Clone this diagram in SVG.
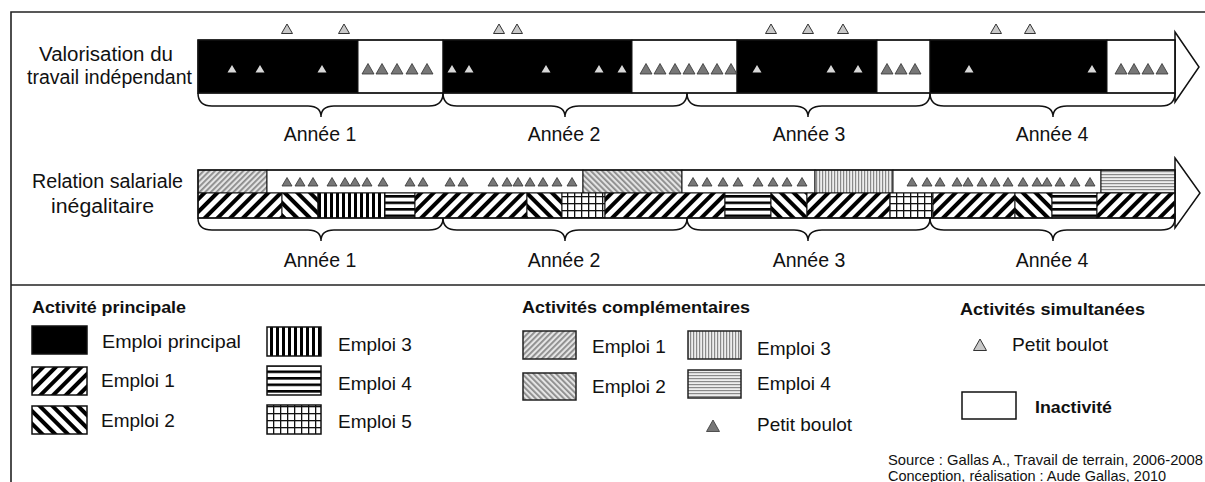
<svg xmlns="http://www.w3.org/2000/svg" width="1205" height="482" viewBox="0 0 1205 482">
<style>
text{font-family:"Liberation Sans",Arial,sans-serif;fill:#111}
.lb{font-size:19.5px}
.lg{font-size:19px}
.hd{font-size:17px;font-weight:bold}
.src{font-size:14.5px}
.frame{stroke:#222;stroke-width:1.6;fill:none}
.seg{stroke:#111;stroke-width:1}
.bar{fill:none;stroke:#111;stroke-width:1.5}
.arrow{fill:#fff;stroke:#111;stroke-width:1.5;stroke-linejoin:miter}
.brace{fill:none;stroke:#111;stroke-width:1.5}
.sw{stroke:#111;stroke-width:1.5}
.swg{stroke:#222;stroke-width:1.5}
</style>
<defs>
<pattern id="pE1" width="9" height="9" patternUnits="userSpaceOnUse" patternTransform="rotate(45)"><rect width="9" height="9" fill="#fff"/><rect width="4" height="9" fill="#000"/></pattern>
<pattern id="pE2" width="9" height="9" patternUnits="userSpaceOnUse" patternTransform="rotate(-45)"><rect width="9" height="9" fill="#fff"/><rect width="4" height="9" fill="#000"/></pattern>
<pattern id="pE3" width="6" height="6" patternUnits="userSpaceOnUse"><rect width="6" height="6" fill="#fff"/><rect width="3" height="6" fill="#000"/></pattern>
<pattern id="pE4" width="6" height="6.5" patternUnits="userSpaceOnUse"><rect width="6" height="6.5" fill="#fff"/><rect width="6" height="2.6" fill="#000"/></pattern>
<pattern id="pE5" width="7" height="7" patternUnits="userSpaceOnUse"><rect width="7" height="7" fill="#fff"/><rect width="1.3" height="7" fill="#111"/><rect width="7" height="1.3" fill="#111"/></pattern>
<pattern id="pC1" width="4" height="4" patternUnits="userSpaceOnUse" patternTransform="rotate(45)"><rect width="4" height="4" fill="#e4e4e4"/><rect width="1.8" height="4" fill="#8a8a8a"/></pattern>
<pattern id="pC2" width="4" height="4" patternUnits="userSpaceOnUse" patternTransform="rotate(-45)"><rect width="4" height="4" fill="#e4e4e4"/><rect width="1.8" height="4" fill="#8a8a8a"/></pattern>
<pattern id="pC3" width="3" height="3" patternUnits="userSpaceOnUse"><rect width="3" height="3" fill="#eee"/><rect width="1.2" height="3" fill="#8a8a8a"/></pattern>
<pattern id="pC4" width="3" height="3" patternUnits="userSpaceOnUse"><rect width="3" height="3" fill="#eee"/><rect width="3" height="1.2" fill="#8a8a8a"/></pattern>
<path id="tl" d="M0,-5 L5.5,4.5 L-5.5,4.5 Z" fill="#c8c8c8" stroke="#333" stroke-width="1"/>
<path id="ts" d="M0,-4 L4.5,3.5 L-4.5,3.5 Z" fill="#d8d8d8"/>
<path id="td" d="M0,-5.5 L6,5 L-6,5 Z" fill="#777" stroke="#333" stroke-width="0.8"/>
<path id="td2" d="M0,-4.5 L5,4 L-5,4 Z" fill="#777" stroke="#333" stroke-width="0.8"/>
<path id="tdl" d="M0,-6 L6.5,5.5 L-6.5,5.5 Z" fill="#777" stroke="#333" stroke-width="0.8"/>
<path id="tll" d="M0,-6 L6.5,5.5 L-6.5,5.5 Z" fill="#c8c8c8" stroke="#333" stroke-width="1"/>
</defs>

<g id="frame">
<path class="frame" d="M11,482 L11,12 L1205,12"/>
<path class="frame" d="M11,285 L1205,285"/>
</g>

<g id="band1">
<text class="lb" x="39" y="61" textLength="134" lengthAdjust="spacingAndGlyphs">Valorisation du</text>
<text class="lb" x="27" y="84" textLength="165" lengthAdjust="spacingAndGlyphs">travail indépendant</text>
<polygon class="arrow" points="1175,32 1199,67 1175,102"/>
<rect class="seg" x="198" y="40" width="160" height="53" fill="#000"/>
<rect class="seg" x="358" y="40" width="85" height="53" fill="#fff"/>
<rect class="seg" x="443" y="40" width="189" height="53" fill="#000"/>
<rect class="seg" x="632" y="40" width="105" height="53" fill="#fff"/>
<rect class="seg" x="737" y="40" width="140" height="53" fill="#000"/>
<rect class="seg" x="877" y="40" width="53" height="53" fill="#fff"/>
<rect class="seg" x="930" y="40" width="177" height="53" fill="#000"/>
<rect class="seg" x="1107" y="40" width="68" height="53" fill="#fff"/>
<rect class="bar" x="198" y="40" width="977" height="53"/>
<g id="b1-top">
<use href="#tl" x="287" y="29"/><use href="#tl" x="344" y="29"/>
<use href="#tl" x="499" y="29"/><use href="#tl" x="517" y="29"/>
<use href="#tl" x="771" y="29"/><use href="#tl" x="808" y="29"/><use href="#tl" x="843" y="29"/>
<use href="#tl" x="996" y="29"/><use href="#tl" x="1030" y="29"/>
</g>
<g id="b1-small">
<use href="#ts" x="232" y="69"/><use href="#ts" x="260" y="69"/><use href="#ts" x="322" y="69"/>
<use href="#ts" x="452" y="69"/><use href="#ts" x="469" y="69"/><use href="#ts" x="546" y="69"/><use href="#ts" x="599" y="69"/><use href="#ts" x="622" y="69"/>
<use href="#ts" x="757" y="69"/><use href="#ts" x="831" y="69"/><use href="#ts" x="858" y="69"/>
<use href="#ts" x="969" y="69"/><use href="#ts" x="1092" y="69"/>
</g>
<g id="b1-dark">
<use href="#td" x="368" y="69"/><use href="#td" x="382" y="69"/><use href="#td" x="397" y="69"/><use href="#td" x="412" y="69"/><use href="#td" x="427" y="69"/>
<use href="#td" x="646" y="69"/><use href="#td" x="660" y="69"/><use href="#td" x="675" y="69"/><use href="#td" x="689" y="69"/><use href="#td" x="703" y="69"/><use href="#td" x="717" y="69"/><use href="#td" x="731" y="69"/>
<use href="#td" x="887" y="69"/><use href="#td" x="901" y="69"/><use href="#td" x="915" y="69"/>
<use href="#td" x="1121" y="69"/><use href="#td" x="1134" y="69"/><use href="#td" x="1148" y="69"/><use href="#td" x="1162" y="69"/>
</g>
<text class="lb" x="320" y="141" text-anchor="middle">Année 1</text>
<text class="lb" x="564" y="141" text-anchor="middle">Année 2</text>
<text class="lb" x="809" y="141" text-anchor="middle">Année 3</text>
<text class="lb" x="1052" y="141" text-anchor="middle">Année 4</text>
</g>

<g id="band2">
<text class="lb" x="32" y="188" textLength="151" lengthAdjust="spacingAndGlyphs">Relation salariale</text>
<text class="lb" x="51" y="213" textLength="103" lengthAdjust="spacingAndGlyphs">inégalitaire</text>
<polygon class="arrow" points="1175,158 1200,193 1175,228"/>
<rect class="seg" x="198" y="170" width="69" height="23" fill="url(#pC1)"/>
<rect class="seg" x="267" y="170" width="316" height="23" fill="#fff"/>
<rect class="seg" x="583" y="170" width="99" height="23" fill="url(#pC2)"/>
<rect class="seg" x="682" y="170" width="133" height="23" fill="#fff"/>
<rect class="seg" x="815" y="170" width="78" height="23" fill="url(#pC3)"/>
<rect class="seg" x="893" y="170" width="208" height="23" fill="#fff"/>
<rect class="seg" x="1101" y="170" width="74" height="23" fill="url(#pC4)"/>
<rect class="seg" x="198" y="193" width="84" height="25" fill="url(#pE1)"/>
<rect class="seg" x="282" y="193" width="36" height="25" fill="url(#pE2)"/>
<rect class="seg" x="318" y="193" width="67" height="25" fill="url(#pE3)"/>
<rect class="seg" x="385" y="193" width="30" height="25" fill="url(#pE4)"/>
<rect class="seg" x="415" y="193" width="112" height="25" fill="url(#pE1)"/>
<rect class="seg" x="527" y="193" width="35" height="25" fill="url(#pE2)"/>
<rect class="seg" x="562" y="193" width="43" height="25" fill="url(#pE5)"/>
<rect class="seg" x="605" y="193" width="120" height="25" fill="url(#pE1)"/>
<rect class="seg" x="725" y="193" width="46" height="25" fill="url(#pE4)"/>
<rect class="seg" x="771" y="193" width="36" height="25" fill="url(#pE2)"/>
<rect class="seg" x="807" y="193" width="83" height="25" fill="url(#pE1)"/>
<rect class="seg" x="890" y="193" width="43" height="25" fill="url(#pE5)"/>
<rect class="seg" x="933" y="193" width="82" height="25" fill="url(#pE1)"/>
<rect class="seg" x="1015" y="193" width="37" height="25" fill="url(#pE2)"/>
<rect class="seg" x="1052" y="193" width="45" height="25" fill="url(#pE4)"/>
<rect class="seg" x="1097" y="193" width="78" height="25" fill="url(#pE1)"/>
<rect class="bar" x="198" y="170" width="977" height="48"/>
<g id="b2-dark">
<use href="#td2" x="287" y="182"/><use href="#td2" x="300" y="182"/><use href="#td2" x="313" y="182"/><use href="#td2" x="332" y="182"/><use href="#td2" x="345" y="182"/><use href="#td2" x="355" y="182"/><use href="#td2" x="367" y="182"/><use href="#td2" x="383" y="182"/>
<use href="#td2" x="410" y="182"/><use href="#td2" x="423" y="182"/><use href="#td2" x="450" y="182"/><use href="#td2" x="463" y="182"/>
<use href="#td2" x="493" y="182"/><use href="#td2" x="507" y="182"/><use href="#td2" x="518" y="182"/><use href="#td2" x="530" y="182"/><use href="#td2" x="543" y="182"/><use href="#td2" x="557" y="182"/><use href="#td2" x="572" y="182"/>
<use href="#td2" x="693" y="182"/><use href="#td2" x="707" y="182"/><use href="#td2" x="723" y="182"/><use href="#td2" x="738" y="182"/><use href="#td2" x="758" y="182"/><use href="#td2" x="773" y="182"/><use href="#td2" x="787" y="182"/><use href="#td2" x="802" y="182"/>
<use href="#td2" x="912" y="182"/><use href="#td2" x="927" y="182"/><use href="#td2" x="940" y="182"/><use href="#td2" x="957" y="182"/><use href="#td2" x="968" y="182"/><use href="#td2" x="982" y="182"/><use href="#td2" x="995" y="182"/><use href="#td2" x="1008" y="182"/><use href="#td2" x="1023" y="182"/><use href="#td2" x="1037" y="182"/><use href="#td2" x="1047" y="182"/><use href="#td2" x="1060" y="182"/><use href="#td2" x="1075" y="182"/><use href="#td2" x="1090" y="182"/>
</g>
<text class="lb" x="320" y="267" text-anchor="middle">Année 1</text>
<text class="lb" x="564" y="267" text-anchor="middle">Année 2</text>
<text class="lb" x="809" y="267" text-anchor="middle">Année 3</text>
<text class="lb" x="1052" y="267" text-anchor="middle">Année 4</text>
</g>

<g id="connectors">
<path class="brace" d="M198,93 Q198,106 212,106 L308,106 Q321,106 321,117 Q321,106 334,106 L429,106 Q443,106 443,93"/>
<path class="brace" d="M443,93 Q443,106 457,106 L551,106 Q565,106 565,117 Q565,106 579,106 L673,106 Q687,106 687,93"/>
<path class="brace" d="M687,93 Q687,106 701,106 L794,106 Q808,106 808,117 Q808,106 822,106 L916,106 Q930,106 930,93"/>
<path class="brace" d="M930,93 Q930,106 944,106 L1039,106 Q1053,106 1053,117 Q1053,106 1067,106 L1161,106 Q1175,106 1175,93"/>
<path class="brace" d="M198,218 Q198,230 212,230 L308,230 Q321,230 321,241 Q321,230 334,230 L429,230 Q443,230 443,218"/>
<path class="brace" d="M443,218 Q443,230 457,230 L551,230 Q565,230 565,241 Q565,230 579,230 L673,230 Q687,230 687,218"/>
<path class="brace" d="M687,218 Q687,230 701,230 L794,230 Q808,230 808,241 Q808,230 822,230 L916,230 Q930,230 930,218"/>
<path class="brace" d="M930,218 Q930,230 944,230 L1039,230 Q1053,230 1053,241 Q1053,230 1067,230 L1161,230 Q1175,230 1175,218"/>
</g>

<g id="legend-principal">
<text class="hd" x="32" y="313" textLength="154" lengthAdjust="spacingAndGlyphs">Activité principale</text>
<rect class="sw" x="32" y="326" width="55" height="28" fill="#000"/>
<text class="lg" x="102" y="348" textLength="139" lengthAdjust="spacingAndGlyphs">Emploi principal</text>
<rect class="sw" x="32" y="367" width="55" height="28" fill="url(#pE1)"/>
<text class="lg" x="101" y="387">Emploi 1</text>
<rect class="sw" x="32" y="406" width="55" height="28" fill="url(#pE2)"/>
<text class="lg" x="101" y="427">Emploi 2</text>
<rect class="sw" x="267" y="327" width="54" height="29" fill="url(#pE3)"/>
<text class="lg" x="338" y="351">Emploi 3</text>
<rect class="sw" x="267" y="366" width="54" height="29" fill="url(#pE4)"/>
<text class="lg" x="338" y="390">Emploi 4</text>
<rect class="sw" x="267" y="405" width="54" height="29" fill="url(#pE5)"/>
<text class="lg" x="338" y="428">Emploi 5</text>
</g>

<g id="legend-complementaires">
<text class="hd" x="522" y="313" textLength="228" lengthAdjust="spacingAndGlyphs">Activités complémentaires</text>
<rect class="swg" x="523" y="331" width="53" height="28" fill="url(#pC1)"/>
<text class="lg" x="592" y="353">Emploi 1</text>
<rect class="swg" x="523" y="373" width="53" height="27" fill="url(#pC2)"/>
<text class="lg" x="592" y="393">Emploi 2</text>
<rect class="swg" x="688" y="331" width="53" height="28" fill="url(#pC3)"/>
<text class="lg" x="757" y="355">Emploi 3</text>
<rect class="swg" x="688" y="370" width="53" height="28" fill="url(#pC4)"/>
<text class="lg" x="757" y="390">Emploi 4</text>
<use href="#tdl" x="713" y="426"/>
<text class="lg" x="757" y="431">Petit boulot</text>
</g>

<g id="legend-simultanees">
<text class="hd" x="960" y="315" textLength="185" lengthAdjust="spacingAndGlyphs">Activités simultanées</text>
<use href="#tll" x="980" y="345"/>
<text class="lg" x="1012" y="351" textLength="96" lengthAdjust="spacingAndGlyphs">Petit boulot</text>
</g>

<g id="legend-inactivite">
<rect class="sw" x="962" y="392" width="54" height="27" fill="#fff"/>
<text class="hd" x="1035" y="413" textLength="77" lengthAdjust="spacingAndGlyphs">Inactivité</text>
</g>

<g id="source">
<text class="src" x="888" y="465" textLength="315" lengthAdjust="spacingAndGlyphs">Source : Gallas A., Travail de terrain, 2006-2008</text>
<text class="src" x="888" y="481">Conception, réalisation : Aude Gallas, 2010</text>
</g>
</svg>
